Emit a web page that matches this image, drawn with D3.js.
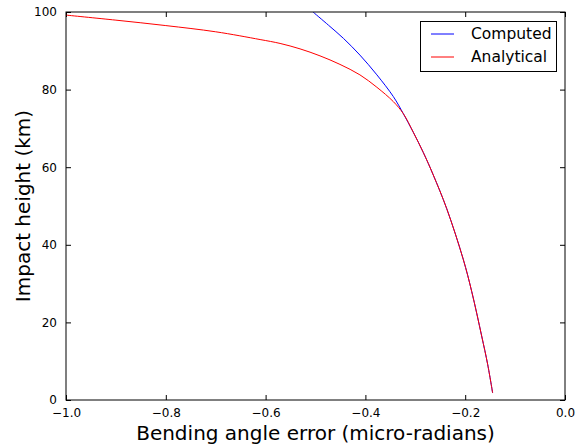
<!DOCTYPE html>
<html>
<head>
<meta charset="utf-8">
<script src="https://cdn.jsdelivr.net/npm/d3@7"></script>
<style>
  body { margin: 0; background: #fff; }
  svg { display: block; font-family: "DejaVu Sans", sans-serif; }
</style>
</head>
<body>
<svg id="chart" width="585" height="447"></svg>
<script>
// Data
const analyticalErr = [-1.0, -0.9, -0.8, -0.7, -0.611, -0.571, -0.531, -0.491, -0.451, -0.411, -0.377, -0.344, -0.324, -0.304, -0.284, -0.264, -0.237, -0.204, -0.187, -0.167, -0.155, -0.145];
const analyticalHeight = [99.2, 97.9, 96.5, 94.9, 92.9, 91.9, 90.5, 88.7, 86.5, 83.8, 80.6, 76.9, 73.8, 69.0, 63.8, 58.0, 49.3, 36.3, 28.0, 16.5, 9.2, 1.8];
const computedErr = [-0.505, -0.474, -0.444, -0.411, -0.377, -0.344, -0.324, -0.304, -0.284, -0.264, -0.237, -0.204, -0.187, -0.167, -0.155, -0.145];
const computedHeight = [100, 96.6, 93.2, 88.9, 83.8, 78.2, 73.8, 69.0, 63.8, 58.0, 49.3, 36.3, 28.0, 16.5, 9.2, 1.8];
const xTicks = [-1.0, -0.8, -0.6, -0.4, -0.2, 0.0];
const yTicks = [0, 20, 40, 60, 80, 100];

const series = [
  { name: "Computed", color: "#0000ff", xs: computedErr, ys: computedHeight },
  { name: "Analytical", color: "#ff0000", xs: analyticalErr, ys: analyticalHeight }
];

const svg = d3.select("#chart");
const margin = { top: 12, right: 20, bottom: 47, left: 66 };
const width = 585 - margin.left - margin.right;
const height = 447 - margin.top - margin.bottom;

const x = d3.scaleLinear().domain([-1, 0]).range([0, width]);
const y = d3.scaleLinear().domain([0, 100]).range([height, 0]);

const g = svg.append("g").attr("transform", `translate(${margin.left},${margin.top})`);

g.append("clipPath").attr("id", "clip")
  .append("rect").attr("width", width).attr("height", height);

const fmtX = d => d3.format(".1f")(d).replace("-", "\u2212");

// axes with inward ticks
const styleAxis = sel => {
  sel.select(".domain").remove();
  sel.selectAll(".tick line").attr("stroke", "#000").attr("stroke-width", 1);
  sel.selectAll(".tick text").attr("fill", "#000").style("font-size", "12px")
    .style("font-family", "DejaVu Sans");
};

g.append("g").attr("transform", `translate(0,${height})`)
  .call(d3.axisBottom(x).tickValues(xTicks).tickFormat(fmtX).tickSizeInner(-5).tickSizeOuter(0).tickPadding(8))
  .call(styleAxis);
g.append("g")
  .call(d3.axisTop(x).tickValues(xTicks).tickFormat("").tickSizeInner(-5).tickSizeOuter(0))
  .call(styleAxis);
g.append("g")
  .call(d3.axisLeft(y).tickValues(yTicks).tickFormat(d3.format("d")).tickSizeInner(-5).tickSizeOuter(0).tickPadding(9))
  .call(styleAxis);
g.append("g").attr("transform", `translate(${width},0)`)
  .call(d3.axisRight(y).tickValues(yTicks).tickFormat("").tickSizeInner(-5).tickSizeOuter(0))
  .call(styleAxis);

// lines
const line = d3.line()
  .x(d => x(d[0]))
  .y(d => y(d[1]))
  .curve(d3.curveCatmullRom);

series.forEach(s => {
  g.append("path")
    .datum(d3.zip(s.xs, s.ys))
    .attr("clip-path", "url(#clip)")
    .attr("fill", "none")
    .attr("stroke", s.color)
    .attr("stroke-width", 1)
    .attr("d", line);
});

// frame
g.append("rect")
  .attr("width", width).attr("height", height)
  .attr("fill", "none").attr("stroke", "#000").attr("stroke-width", 1);

// legend
const lg = g.append("g").attr("transform", `translate(${width - 145},${9})`);
lg.append("rect").attr("x", 0.5).attr("y", 0.5).attr("width", 136).attr("height", 50)
  .attr("fill", "#fff").attr("stroke", "#000").attr("stroke-width", 1);
series.forEach((s, i) => {
  const yy = 13 + i * 23;
  lg.append("line").attr("x1", 11).attr("x2", 34).attr("y1", yy).attr("y2", yy)
    .attr("stroke", s.color).attr("stroke-width", 1);
  lg.append("text").attr("x", 51).attr("y", yy).attr("dy", "0.35em")
    .style("font-size", "15.5px").text(s.name);
});

// axis labels
svg.append("text")
  .attr("x", margin.left + width / 2).attr("y", 440)
  .attr("text-anchor", "middle").style("font-size", "20px")
  .text("Bending angle error (micro-radians)");
svg.append("text")
  .attr("transform", `translate(30,${margin.top + height / 2}) rotate(-90)`)
  .attr("text-anchor", "middle").style("font-size", "20px")
  .text("Impact height (km)");
</script>
</body>
</html>
